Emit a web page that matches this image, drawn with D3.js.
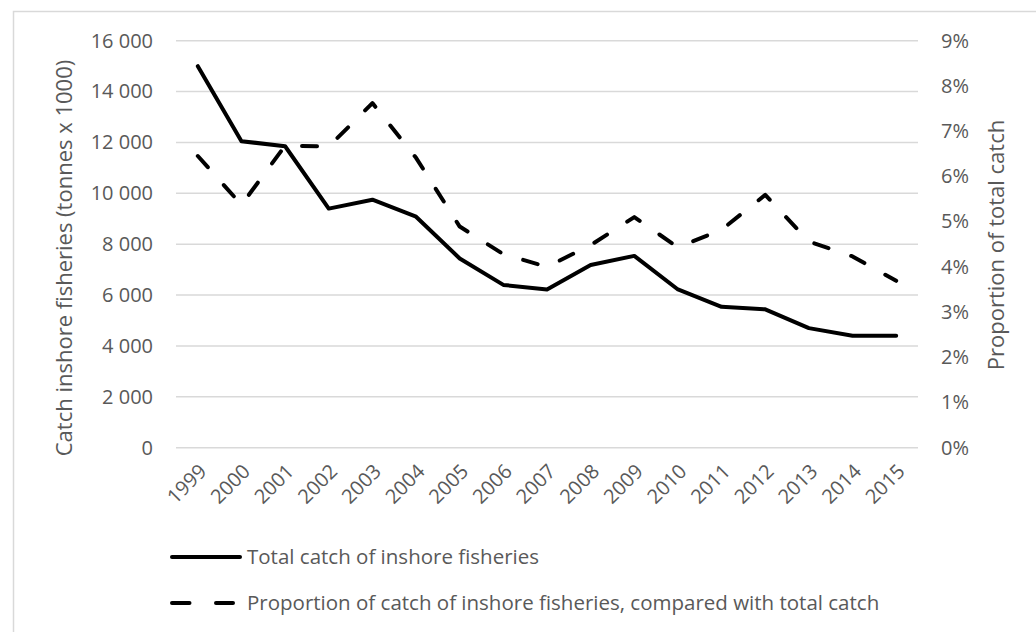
<!DOCTYPE html>
<html>
<head>
<meta charset="utf-8">
<script src="https://cdn.jsdelivr.net/npm/d3@7"></script>
<style>
	body { margin:0; background:#fff; }
	text { font-family:"Open Sans", sans-serif; fill:#595959; }
</style>
</head>
<body>
<script>
// data //{{{
var years=["1999","2000","2001","2002","2003","2004","2005","2006","2007","2008","2009","2010","2011","2012","2013","2014","2015"];
var total_catch=[15000,12050,11850,9400,9750,9080,7440,6400,6220,7180,7540,6220,5540,5440,4700,4400,4400];
var proportion=[6.45,5.37,6.68,6.66,7.62,6.41,4.89,4.28,4.0,4.48,5.10,4.43,4.82,5.59,4.56,4.23,3.69];
var left_ticks=[0,2000,4000,6000,8000,10000,12000,14000,16000];
var right_ticks=[0,1,2,3,4,5,6,7,8,9];
var legend_labels=["Total catch of inshore fisheries","Proportion of catch of inshore fisheries, compared with total catch"];
//}}}
var W=1036, H=632;
var plot={left:176, right:918, top:40.7, bottom:447.7};
var fs=20;

var svg=d3.select('body').append('svg').attr('width',W).attr('height',H);
svg.append('rect').attr('width',W).attr('height',H).attr('fill','#fff');
// chart border, runs off the right and bottom edge like the reference
svg.append('rect').attr('x',13.5).attr('y',11.5).attr('width',W).attr('height',H)
	.attr('fill','none').attr('stroke','#d9d9d9').attr('stroke-width',1.5);

// scales //{{{
var x=d3.scaleBand().domain(years).range([plot.left,plot.right]);
var yL=d3.scaleLinear().domain([0,16000]).range([plot.bottom,plot.top]);
var yR=d3.scaleLinear().domain([0,9]).range([plot.bottom,plot.top]);
//}}}
// grid + axes //{{{
svg.append('g').selectAll('line').data(left_ticks).join('line')
	.attr('x1',plot.left).attr('x2',plot.right)
	.attr('y1',d=>yL(d)).attr('y2',d=>yL(d))
	.attr('stroke','#d9d9d9').attr('stroke-width',1.5);

var fmt=function(d){ return d3.format(",")(d).replace(/,/g," "); };
var axL=svg.append('g').attr('transform','translate('+(plot.left-23)+',0)')
	.call(d3.axisLeft(yL).tickValues(left_ticks).tickFormat(fmt).tickSize(0).tickPadding(0));
var axR=svg.append('g').attr('transform','translate('+(plot.right+23)+',0)')
	.call(d3.axisRight(yR).tickValues(right_ticks).tickFormat(d=>d+"%").tickSize(0).tickPadding(0));
var axX=svg.append('g').attr('transform','translate(0,'+plot.bottom+')')
	.call(d3.axisBottom(x).tickSize(0).tickPadding(0));
[axL,axR,axX].forEach(function(a){
	a.select('.domain').remove();
	a.selectAll('text').style('font-size',fs+'px').attr('fill','#595959').style('font-family','"Open Sans", sans-serif');
});
axX.selectAll('text')
	.attr('text-anchor','end')
	.attr('dy','0.35em')
	.attr('transform','translate(5,20) rotate(-45)');

svg.append('text').attr('transform','translate(72,258) rotate(-90)')
	.attr('text-anchor','middle').style('font-size','22px')
	.text('Catch inshore fisheries (tonnes x 1000)');
svg.append('text').attr('transform','translate(1004,245) rotate(-90)')
	.attr('text-anchor','middle').style('font-size','22px')
	.text('Proportion of total catch');
//}}}
// lines //{{{
var cx=function(i){ return x(years[i])+x.bandwidth()/2; };
var solid=d3.line().x((d,i)=>cx(i)).y(d=>yL(d));
var dashed=d3.line().x((d,i)=>cx(i)).y(d=>yR(d));
svg.append('path').datum(total_catch).attr('d',solid)
	.attr('fill','none').attr('stroke','#000').attr('stroke-width',4)
	.attr('stroke-linejoin','round').attr('stroke-linecap','round');
svg.append('path').datum(proportion).attr('d',dashed)
	.attr('fill','none').attr('stroke','#000').attr('stroke-width',4)
	.attr('stroke-dasharray','15,24').attr('stroke-linejoin','round').attr('stroke-linecap','round');
//}}}
// legend //{{{
var lg=svg.append('g');
var ly=[557,603];
lg.append('line').attr('x1',172).attr('x2',240).attr('y1',ly[0]).attr('y2',ly[0])
	.attr('stroke','#000').attr('stroke-width',4).attr('stroke-linecap','round');
lg.append('line').attr('x1',172).attr('x2',233).attr('y1',ly[1]).attr('y2',ly[1])
	.attr('stroke','#000').attr('stroke-width',4).attr('stroke-linecap','round').attr('stroke-dasharray','17.5,26.5');
lg.selectAll('text').data(legend_labels).join('text')
	.attr('x',247).attr('y',(d,i)=>ly[i]).attr('dy','0.35em')
	.style('font-size','20.5px').text(d=>d);
//}}}
</script>
</body>
</html>
